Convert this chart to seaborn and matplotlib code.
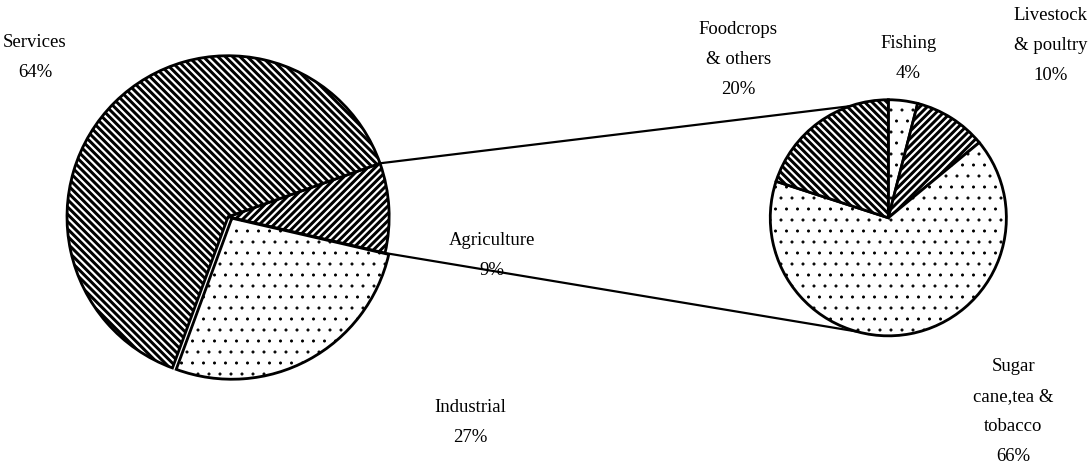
import numpy as np
import matplotlib
matplotlib.use("Agg")
import matplotlib.pyplot as plt
import seaborn as sns

# ---- data ----
main_labels = ["Agriculture", "Services", "Industrial"]
main_values = [9, 64, 27]
main_pct = ["9%", "64%", "27%"]

agri_labels = ["Fishing", "Livestock\n& poultry", "Sugar\ncane,tea &\ntobacco", "Foodcrops\n& others"]
agri_values = [4, 10, 66, 20]
agri_pct = ["4%", "10%", "66%", "20%"]

DPI = 66
PT = 72.0 / DPI  # points per pixel

sns.set_theme(style="white")
plt.rcParams['font.family'] = ['Liberation Serif', 'DejaVu Serif']
plt.rcParams['hatch.linewidth'] = 3.0 * PT
plt.rcParams['hatch.color'] = 'black'

W, H = 1092, 465
fig = plt.figure(figsize=((W + 0.4) / DPI, (H + 0.4) / DPI), dpi=DPI)
ax = fig.add_axes([0, 0, 1, 1])

left_c = (228, H - 217)
left_r = 161
right_c = (888, H - 218)
right_r = 118

main_hatch = ['///', '\\\\\\', '.']
agri_hatch = ['.', '///', '.', '\\\\\\']

w1, _ = ax.pie(main_values, startangle=-13, counterclock=True, center=left_c,
               radius=left_r, colors=['white'] * 3, hatch=main_hatch,
               wedgeprops=dict(edgecolor='black', linewidth=2.8 * PT), frame=True)

w2, _ = ax.pie(agri_values, startangle=90, counterclock=False, center=right_c,
               radius=right_r, colors=['white'] * 4, hatch=agri_hatch,
               wedgeprops=dict(edgecolor='black', linewidth=2.8 * PT), frame=True)

for w in list(w1) + list(w2):
    if w.get_hatch() == '.' and hasattr(w, 'set_hatch_linewidth'):
        w.set_hatch_linewidth(0.8 * PT)

# Industrial slice pulled slightly away from Services
ind = w1[2]
shift_dir = np.deg2rad(ind.theta1 + 90)
ind.set_center((left_c[0] + 4 * np.cos(shift_dir), left_c[1] + 4 * np.sin(shift_dir)))

# connector lines from agriculture wedge to the breakdown pie
agri = w1[0]
a_top, a_bot = np.deg2rad(agri.theta2), np.deg2rad(agri.theta1)
r_top, r_bot = np.deg2rad(109), np.deg2rad(-105.5)
for a, b in [(a_top, r_top), (a_bot, r_bot)]:
    p0 = (left_c[0] + left_r * np.cos(a), left_c[1] + left_r * np.sin(a))
    p1 = (right_c[0] + right_r * np.cos(b), right_c[1] + right_r * np.sin(b))
    ax.plot([p0[0], p1[0]], [p0[1], p1[1]], color='black', lw=2.2 * PT, zorder=0)

fs = 18.75 * PT
ls = 2.0
def lab(x, y, s):
    ax.text(x, H - y, s, ha='center', va='center', fontsize=fs, linespacing=ls, color='black')

lab(35, 57, f"{main_labels[1]}\n{main_pct[1]}")
lab(492, 255, f"{main_labels[0]}\n{main_pct[0]}")
lab(470, 422, f"{main_labels[2]}\n{main_pct[2]}")
lab(738, 59, f"{agri_labels[3]}\n{agri_pct[3]}")
lab(908, 58, f"{agri_labels[0]}\n{agri_pct[0]}")
lab(1050, 45, f"{agri_labels[1]}\n{agri_pct[1]}")
lab(1013, 411, f"{agri_labels[2]}\n{agri_pct[2]}")

ax.set_xlim(0, W)
ax.set_ylim(0, H)
ax.set_aspect('equal')
ax.axis('off')
fig.savefig("out.png", dpi=DPI, facecolor='white')
